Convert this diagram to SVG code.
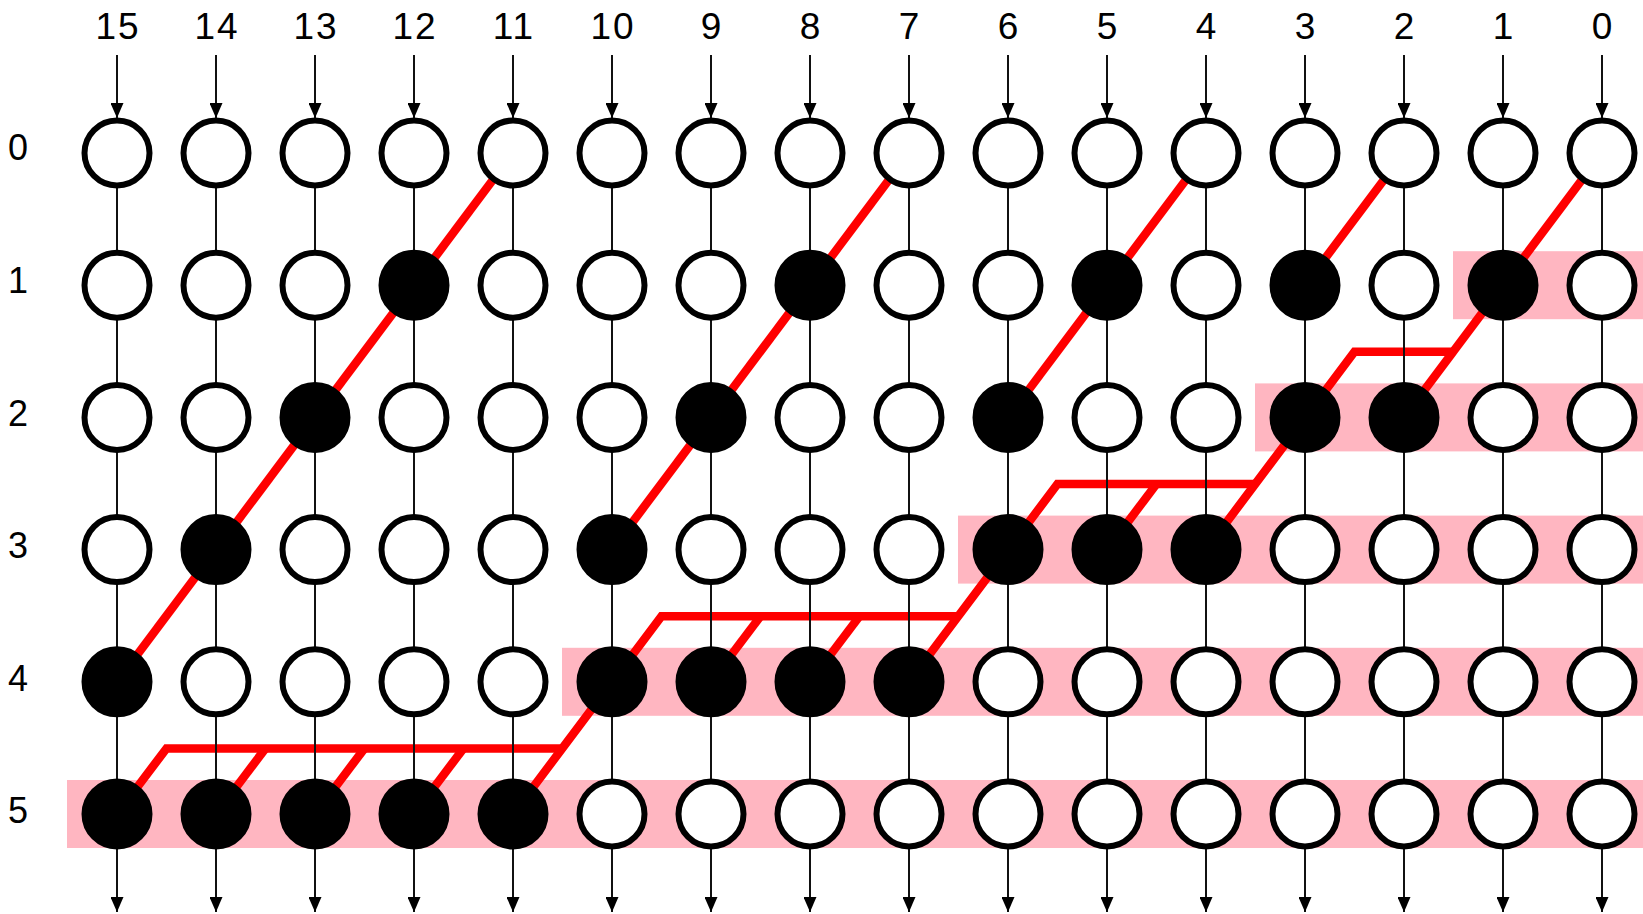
<svg xmlns="http://www.w3.org/2000/svg" width="1643" height="914" viewBox="0 0 1643 914">
<style>
.lbl{font-family:"Liberation Sans",Arial,sans-serif;font-size:36px;fill:#000;text-anchor:middle}
.top{font-size:37px}
.band{fill:#FFB6C1}
.red{fill:none;stroke:#FF0000;stroke-width:8.5;stroke-linejoin:miter;stroke-linecap:butt}
.wire{stroke:#111;stroke-width:2;fill:none}
.io{stroke:#111;stroke-width:2;fill:none;marker-end:url(#ah)}
.w{fill:#fff;stroke:#000;stroke-width:6}
.b{fill:#000;stroke:#000;stroke-width:6}
</style>
<defs>
<marker id="ah" markerUnits="userSpaceOnUse" markerWidth="15" markerHeight="13" refX="15" refY="6.5" orient="auto">
<path d="M0,0 L15,6.5 L0,13 z" fill="#000"/>
</marker>
</defs>
<rect width="1643" height="914" fill="#fff"/>
<g id="labels">
<text class="lbl top" x="117" y="38.5" letter-spacing="2" dx="1">15</text>
<text class="lbl top" x="216" y="38.5" letter-spacing="2" dx="1">14</text>
<text class="lbl top" x="315" y="38.5" letter-spacing="2" dx="1">13</text>
<text class="lbl top" x="414" y="38.5" letter-spacing="2" dx="1">12</text>
<text class="lbl top" x="513" y="38.5" letter-spacing="2" dx="1">11</text>
<text class="lbl top" x="612" y="38.5" letter-spacing="2" dx="1">10</text>
<text class="lbl top" x="711" y="38.5">9</text>
<text class="lbl top" x="810" y="38.5">8</text>
<text class="lbl top" x="909" y="38.5">7</text>
<text class="lbl top" x="1008" y="38.5">6</text>
<text class="lbl top" x="1107" y="38.5">5</text>
<text class="lbl top" x="1206" y="38.5">4</text>
<text class="lbl top" x="1305" y="38.5">3</text>
<text class="lbl top" x="1404" y="38.5">2</text>
<text class="lbl top" x="1503" y="38.5">1</text>
<text class="lbl top" x="1602" y="38.5">0</text>
<text class="lbl" x="18" y="160">0</text>
<text class="lbl" x="18" y="293">1</text>
<text class="lbl" x="18" y="425.5">2</text>
<text class="lbl" x="18" y="558">3</text>
<text class="lbl" x="18" y="690.5">4</text>
<text class="lbl" x="18" y="823">5</text>
</g>
<g id="bands">
<rect class="band" x="1453" y="251.2" width="190" height="68"/>
<rect class="band" x="1255" y="383.4" width="388" height="68"/>
<rect class="band" x="958" y="515.6" width="685" height="68"/>
<rect class="band" x="562" y="647.8" width="1081" height="68"/>
<rect class="band" x="67" y="780" width="1576" height="68"/>
</g>
<g id="carry-paths">
<line class="red" x1="513" y1="153" x2="117" y2="681.8"/>
<line class="red" x1="909" y1="153" x2="612" y2="549.6"/>
<line class="red" x1="1206" y1="153" x2="1008" y2="417.4"/>
<line class="red" x1="1404" y1="153" x2="1305" y2="285.2"/>
<line class="red" x1="1602" y1="153" x2="1404" y2="417.4"/>
<polyline class="red" points="1452.5,351.8 1354.5,351.8 1206,549.6"/>
<polyline class="red" points="1255.5,484 1057.5,484 909,681.8"/>
<line class="red" x1="1156.5" y1="484" x2="1107" y2="549.6"/>
<polyline class="red" points="958.5,616.2 661.5,616.2 513,814"/>
<line class="red" x1="859.5" y1="616.2" x2="810" y2="681.8"/>
<line class="red" x1="760.5" y1="616.2" x2="711" y2="681.8"/>
<polyline class="red" points="562.5,748.4 166.5,748.4 117,814"/>
<line class="red" x1="265.5" y1="748.4" x2="216" y2="814"/>
<line class="red" x1="364.5" y1="748.4" x2="315" y2="814"/>
<line class="red" x1="463.5" y1="748.4" x2="414" y2="814"/>
</g>
<g id="connectors">
<line class="wire" x1="117" y1="153" x2="117" y2="814"/>
<line class="wire" x1="216" y1="153" x2="216" y2="814"/>
<line class="wire" x1="315" y1="153" x2="315" y2="814"/>
<line class="wire" x1="414" y1="153" x2="414" y2="814"/>
<line class="wire" x1="513" y1="153" x2="513" y2="814"/>
<line class="wire" x1="612" y1="153" x2="612" y2="814"/>
<line class="wire" x1="711" y1="153" x2="711" y2="814"/>
<line class="wire" x1="810" y1="153" x2="810" y2="814"/>
<line class="wire" x1="909" y1="153" x2="909" y2="814"/>
<line class="wire" x1="1008" y1="153" x2="1008" y2="814"/>
<line class="wire" x1="1107" y1="153" x2="1107" y2="814"/>
<line class="wire" x1="1206" y1="153" x2="1206" y2="814"/>
<line class="wire" x1="1305" y1="153" x2="1305" y2="814"/>
<line class="wire" x1="1404" y1="153" x2="1404" y2="814"/>
<line class="wire" x1="1503" y1="153" x2="1503" y2="814"/>
<line class="wire" x1="1602" y1="153" x2="1602" y2="814"/>
<line class="io" x1="117" y1="55" x2="117" y2="118"/>
<line class="io" x1="216" y1="55" x2="216" y2="118"/>
<line class="io" x1="315" y1="55" x2="315" y2="118"/>
<line class="io" x1="414" y1="55" x2="414" y2="118"/>
<line class="io" x1="513" y1="55" x2="513" y2="118"/>
<line class="io" x1="612" y1="55" x2="612" y2="118"/>
<line class="io" x1="711" y1="55" x2="711" y2="118"/>
<line class="io" x1="810" y1="55" x2="810" y2="118"/>
<line class="io" x1="909" y1="55" x2="909" y2="118"/>
<line class="io" x1="1008" y1="55" x2="1008" y2="118"/>
<line class="io" x1="1107" y1="55" x2="1107" y2="118"/>
<line class="io" x1="1206" y1="55" x2="1206" y2="118"/>
<line class="io" x1="1305" y1="55" x2="1305" y2="118"/>
<line class="io" x1="1404" y1="55" x2="1404" y2="118"/>
<line class="io" x1="1503" y1="55" x2="1503" y2="118"/>
<line class="io" x1="1602" y1="55" x2="1602" y2="118"/>
<line class="io" x1="117" y1="849" x2="117" y2="912"/>
<line class="io" x1="216" y1="849" x2="216" y2="912"/>
<line class="io" x1="315" y1="849" x2="315" y2="912"/>
<line class="io" x1="414" y1="849" x2="414" y2="912"/>
<line class="io" x1="513" y1="849" x2="513" y2="912"/>
<line class="io" x1="612" y1="849" x2="612" y2="912"/>
<line class="io" x1="711" y1="849" x2="711" y2="912"/>
<line class="io" x1="810" y1="849" x2="810" y2="912"/>
<line class="io" x1="909" y1="849" x2="909" y2="912"/>
<line class="io" x1="1008" y1="849" x2="1008" y2="912"/>
<line class="io" x1="1107" y1="849" x2="1107" y2="912"/>
<line class="io" x1="1206" y1="849" x2="1206" y2="912"/>
<line class="io" x1="1305" y1="849" x2="1305" y2="912"/>
<line class="io" x1="1404" y1="849" x2="1404" y2="912"/>
<line class="io" x1="1503" y1="849" x2="1503" y2="912"/>
<line class="io" x1="1602" y1="849" x2="1602" y2="912"/>
</g>
<g id="nodes">
<g id="n0-15"><circle class="w" cx="117" cy="153" r="32.5"/></g>
<g id="n0-14"><circle class="w" cx="216" cy="153" r="32.5"/></g>
<g id="n0-13"><circle class="w" cx="315" cy="153" r="32.5"/></g>
<g id="n0-12"><circle class="w" cx="414" cy="153" r="32.5"/></g>
<g id="n0-11"><circle class="w" cx="513" cy="153" r="32.5"/></g>
<g id="n0-10"><circle class="w" cx="612" cy="153" r="32.5"/></g>
<g id="n0-9"><circle class="w" cx="711" cy="153" r="32.5"/></g>
<g id="n0-8"><circle class="w" cx="810" cy="153" r="32.5"/></g>
<g id="n0-7"><circle class="w" cx="909" cy="153" r="32.5"/></g>
<g id="n0-6"><circle class="w" cx="1008" cy="153" r="32.5"/></g>
<g id="n0-5"><circle class="w" cx="1107" cy="153" r="32.5"/></g>
<g id="n0-4"><circle class="w" cx="1206" cy="153" r="32.5"/></g>
<g id="n0-3"><circle class="w" cx="1305" cy="153" r="32.5"/></g>
<g id="n0-2"><circle class="w" cx="1404" cy="153" r="32.5"/></g>
<g id="n0-1"><circle class="w" cx="1503" cy="153" r="32.5"/></g>
<g id="n0-0"><circle class="w" cx="1602" cy="153" r="32.5"/></g>

<g id="n1-15"><circle class="w" cx="117" cy="285.2" r="32.5"/></g>
<g id="n1-14"><circle class="w" cx="216" cy="285.2" r="32.5"/></g>
<g id="n1-13"><circle class="w" cx="315" cy="285.2" r="32.5"/></g>
<g id="n1-12"><circle class="b" cx="414" cy="285.2" r="32.5"/></g>
<g id="n1-11"><circle class="w" cx="513" cy="285.2" r="32.5"/></g>
<g id="n1-10"><circle class="w" cx="612" cy="285.2" r="32.5"/></g>
<g id="n1-9"><circle class="w" cx="711" cy="285.2" r="32.5"/></g>
<g id="n1-8"><circle class="b" cx="810" cy="285.2" r="32.5"/></g>
<g id="n1-7"><circle class="w" cx="909" cy="285.2" r="32.5"/></g>
<g id="n1-6"><circle class="w" cx="1008" cy="285.2" r="32.5"/></g>
<g id="n1-5"><circle class="b" cx="1107" cy="285.2" r="32.5"/></g>
<g id="n1-4"><circle class="w" cx="1206" cy="285.2" r="32.5"/></g>
<g id="n1-3"><circle class="b" cx="1305" cy="285.2" r="32.5"/></g>
<g id="n1-2"><circle class="w" cx="1404" cy="285.2" r="32.5"/></g>
<g id="n1-1"><circle class="b" cx="1503" cy="285.2" r="32.5"/></g>
<g id="n1-0"><circle class="w" cx="1602" cy="285.2" r="32.5"/></g>

<g id="n2-15"><circle class="w" cx="117" cy="417.4" r="32.5"/></g>
<g id="n2-14"><circle class="w" cx="216" cy="417.4" r="32.5"/></g>
<g id="n2-13"><circle class="b" cx="315" cy="417.4" r="32.5"/></g>
<g id="n2-12"><circle class="w" cx="414" cy="417.4" r="32.5"/></g>
<g id="n2-11"><circle class="w" cx="513" cy="417.4" r="32.5"/></g>
<g id="n2-10"><circle class="w" cx="612" cy="417.4" r="32.5"/></g>
<g id="n2-9"><circle class="b" cx="711" cy="417.4" r="32.5"/></g>
<g id="n2-8"><circle class="w" cx="810" cy="417.4" r="32.5"/></g>
<g id="n2-7"><circle class="w" cx="909" cy="417.4" r="32.5"/></g>
<g id="n2-6"><circle class="b" cx="1008" cy="417.4" r="32.5"/></g>
<g id="n2-5"><circle class="w" cx="1107" cy="417.4" r="32.5"/></g>
<g id="n2-4"><circle class="w" cx="1206" cy="417.4" r="32.5"/></g>
<g id="n2-3"><circle class="b" cx="1305" cy="417.4" r="32.5"/></g>
<g id="n2-2"><circle class="b" cx="1404" cy="417.4" r="32.5"/></g>
<g id="n2-1"><circle class="w" cx="1503" cy="417.4" r="32.5"/></g>
<g id="n2-0"><circle class="w" cx="1602" cy="417.4" r="32.5"/></g>

<g id="n3-15"><circle class="w" cx="117" cy="549.6" r="32.5"/></g>
<g id="n3-14"><circle class="b" cx="216" cy="549.6" r="32.5"/></g>
<g id="n3-13"><circle class="w" cx="315" cy="549.6" r="32.5"/></g>
<g id="n3-12"><circle class="w" cx="414" cy="549.6" r="32.5"/></g>
<g id="n3-11"><circle class="w" cx="513" cy="549.6" r="32.5"/></g>
<g id="n3-10"><circle class="b" cx="612" cy="549.6" r="32.5"/></g>
<g id="n3-9"><circle class="w" cx="711" cy="549.6" r="32.5"/></g>
<g id="n3-8"><circle class="w" cx="810" cy="549.6" r="32.5"/></g>
<g id="n3-7"><circle class="w" cx="909" cy="549.6" r="32.5"/></g>
<g id="n3-6"><circle class="b" cx="1008" cy="549.6" r="32.5"/></g>
<g id="n3-5"><circle class="b" cx="1107" cy="549.6" r="32.5"/></g>
<g id="n3-4"><circle class="b" cx="1206" cy="549.6" r="32.5"/></g>
<g id="n3-3"><circle class="w" cx="1305" cy="549.6" r="32.5"/></g>
<g id="n3-2"><circle class="w" cx="1404" cy="549.6" r="32.5"/></g>
<g id="n3-1"><circle class="w" cx="1503" cy="549.6" r="32.5"/></g>
<g id="n3-0"><circle class="w" cx="1602" cy="549.6" r="32.5"/></g>

<g id="n4-15"><circle class="b" cx="117" cy="681.8" r="32.5"/></g>
<g id="n4-14"><circle class="w" cx="216" cy="681.8" r="32.5"/></g>
<g id="n4-13"><circle class="w" cx="315" cy="681.8" r="32.5"/></g>
<g id="n4-12"><circle class="w" cx="414" cy="681.8" r="32.5"/></g>
<g id="n4-11"><circle class="w" cx="513" cy="681.8" r="32.5"/></g>
<g id="n4-10"><circle class="b" cx="612" cy="681.8" r="32.5"/></g>
<g id="n4-9"><circle class="b" cx="711" cy="681.8" r="32.5"/></g>
<g id="n4-8"><circle class="b" cx="810" cy="681.8" r="32.5"/></g>
<g id="n4-7"><circle class="b" cx="909" cy="681.8" r="32.5"/></g>
<g id="n4-6"><circle class="w" cx="1008" cy="681.8" r="32.5"/></g>
<g id="n4-5"><circle class="w" cx="1107" cy="681.8" r="32.5"/></g>
<g id="n4-4"><circle class="w" cx="1206" cy="681.8" r="32.5"/></g>
<g id="n4-3"><circle class="w" cx="1305" cy="681.8" r="32.5"/></g>
<g id="n4-2"><circle class="w" cx="1404" cy="681.8" r="32.5"/></g>
<g id="n4-1"><circle class="w" cx="1503" cy="681.8" r="32.5"/></g>
<g id="n4-0"><circle class="w" cx="1602" cy="681.8" r="32.5"/></g>

<g id="n5-15"><circle class="b" cx="117" cy="814" r="32.5"/></g>
<g id="n5-14"><circle class="b" cx="216" cy="814" r="32.5"/></g>
<g id="n5-13"><circle class="b" cx="315" cy="814" r="32.5"/></g>
<g id="n5-12"><circle class="b" cx="414" cy="814" r="32.5"/></g>
<g id="n5-11"><circle class="b" cx="513" cy="814" r="32.5"/></g>
<g id="n5-10"><circle class="w" cx="612" cy="814" r="32.5"/></g>
<g id="n5-9"><circle class="w" cx="711" cy="814" r="32.5"/></g>
<g id="n5-8"><circle class="w" cx="810" cy="814" r="32.5"/></g>
<g id="n5-7"><circle class="w" cx="909" cy="814" r="32.5"/></g>
<g id="n5-6"><circle class="w" cx="1008" cy="814" r="32.5"/></g>
<g id="n5-5"><circle class="w" cx="1107" cy="814" r="32.5"/></g>
<g id="n5-4"><circle class="w" cx="1206" cy="814" r="32.5"/></g>
<g id="n5-3"><circle class="w" cx="1305" cy="814" r="32.5"/></g>
<g id="n5-2"><circle class="w" cx="1404" cy="814" r="32.5"/></g>
<g id="n5-1"><circle class="w" cx="1503" cy="814" r="32.5"/></g>
<g id="n5-0"><circle class="w" cx="1602" cy="814" r="32.5"/></g>
</g>
</svg>
